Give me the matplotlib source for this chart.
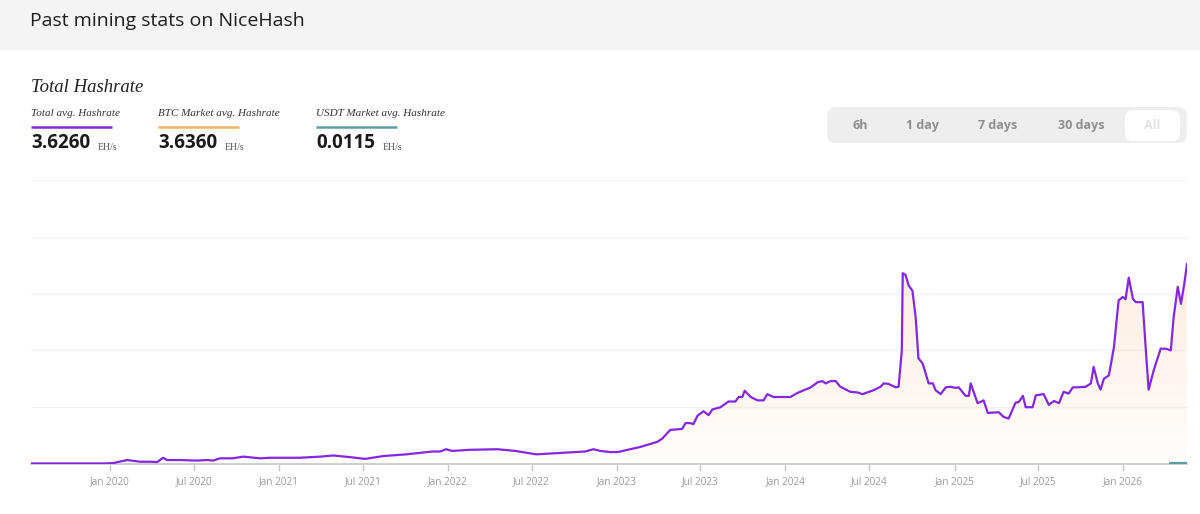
import matplotlib

matplotlib.use("Agg")

import matplotlib.dates as mdates
import matplotlib.pyplot as plt
import numpy as np
import pandas as pd
from matplotlib.patches import FancyBboxPatch, Polygon

# ---------------------------------------------------------------------------
# Data (read off the NiceHash "Total Hashrate" chart, EH/s)
# ---------------------------------------------------------------------------
dates = [
    "2019-07-14", "2019-12-21", "2020-01-07", "2020-02-07", "2020-03-06",
    "2020-03-28", "2020-04-12", "2020-04-25", "2020-05-03", "2020-06-01",
    "2020-07-07", "2020-07-29", "2020-08-11", "2020-08-26", "2020-09-23",
    "2020-10-15", "2020-11-21", "2020-12-12", "2021-02-15", "2021-03-31",
    "2021-04-28", "2021-06-04", "2021-07-06", "2021-08-14", "2021-10-03",
    "2021-11-28", "2021-12-15", "2021-12-28", "2022-01-10", "2022-02-18",
    "2022-04-18", "2022-05-27", "2022-07-11", "2022-08-21", "2022-10-02",
    "2022-10-25", "2022-11-12", "2022-11-27", "2022-12-18", "2023-01-03",
    "2023-02-21", "2023-03-30", "2023-04-10", "2023-04-27", "2023-05-13",
    "2023-05-23", "2023-05-30", "2023-06-10", "2023-06-16", "2023-06-25",
    "2023-07-08", "2023-07-19", "2023-07-27", "2023-08-14", "2023-08-31",
    "2023-09-15", "2023-09-22", "2023-09-30", "2023-10-05", "2023-10-18",
    "2023-11-02", "2023-11-15", "2023-11-23", "2023-12-06", "2023-12-26",
    "2024-01-12", "2024-01-27", "2024-02-25", "2024-03-11", "2024-03-21",
    "2024-03-28", "2024-04-08", "2024-04-19", "2024-04-29", "2024-05-21",
    "2024-06-05", "2024-06-16", "2024-07-10", "2024-07-25", "2024-08-01",
    "2024-08-11", "2024-08-27", "2024-09-02", "2024-09-09", "2024-09-11",
    "2024-09-17", "2024-09-24", "2024-10-02", "2024-10-09", "2024-10-15",
    "2024-10-24", "2024-11-06", "2024-11-15", "2024-11-21", "2024-12-02",
    "2024-12-13", "2024-12-24", "2025-01-03", "2025-01-10", "2025-01-25",
    "2025-02-01", "2025-02-05", "2025-02-20", "2025-03-05", "2025-03-14",
    "2025-04-07", "2025-04-17", "2025-04-28", "2025-05-13", "2025-05-20",
    "2025-05-29", "2025-06-04", "2025-06-19", "2025-06-26", "2025-07-13",
    "2025-07-24", "2025-08-04", "2025-08-15", "2025-08-25", "2025-09-05",
    "2025-09-14", "2025-09-25", "2025-10-12", "2025-10-23", "2025-10-29",
    "2025-11-07", "2025-11-13", "2025-11-20", "2025-12-01", "2025-12-12",
    "2025-12-22", "2025-12-31", "2026-01-06", "2026-01-13", "2026-01-22",
    "2026-01-28", "2026-02-12", "2026-02-19", "2026-02-25", "2026-03-08",
    "2026-03-23", "2026-04-03", "2026-04-14", "2026-04-20", "2026-04-29",
    "2026-05-06", "2026-05-13", "2026-05-19",
]
total_ehs = [
    0.01, 0.01, 0.015, 0.07, 0.04,
    0.04, 0.035, 0.11, 0.07, 0.07,
    0.06, 0.07, 0.06, 0.10, 0.10,
    0.13, 0.10, 0.11, 0.11, 0.13,
    0.15, 0.12, 0.09, 0.14, 0.17,
    0.22, 0.22, 0.26, 0.23, 0.25,
    0.26, 0.23, 0.17, 0.19, 0.21,
    0.22, 0.26, 0.23, 0.21, 0.21,
    0.30, 0.39, 0.45, 0.60, 0.61,
    0.62, 0.72, 0.72, 0.70, 0.85,
    0.93, 0.86, 0.96, 1.00, 1.10,
    1.10, 1.18, 1.18, 1.29, 1.18,
    1.12, 1.12, 1.23, 1.18, 1.18,
    1.18, 1.25, 1.35, 1.44, 1.46,
    1.42, 1.46, 1.46, 1.36, 1.27,
    1.26, 1.23, 1.30, 1.36, 1.42,
    1.41, 1.35, 1.36, 2.00, 3.36,
    3.33, 3.14, 3.05, 2.58, 1.86,
    1.77, 1.42, 1.42, 1.30, 1.23,
    1.35, 1.36, 1.34, 1.35, 1.20,
    1.20, 1.42, 1.07, 1.12, 0.90,
    0.91, 0.83, 0.80, 1.08, 1.09,
    1.20, 1.00, 1.00, 1.21, 1.23,
    1.04, 1.11, 1.07, 1.27, 1.24,
    1.35, 1.35, 1.36, 1.42, 1.71,
    1.42, 1.31, 1.50, 1.56, 2.06,
    2.88, 2.94, 2.90, 3.28, 2.91,
    2.85, 2.85, 2.00, 1.31, 1.65,
    2.03, 2.03, 2.00, 2.58, 3.12,
    2.82, 3.17, 3.52,
]
usdt_dates = ["2026-04-10", "2026-05-19"]
usdt_ehs = [0.0115, 0.0115]

legend_labels = ["Total avg. Hashrate", "BTC Market avg. Hashrate",
                 "USDT Market avg. Hashrate"]
legend_values = ["3.6260", "3.6360", "0.0115"]
range_buttons = ["6h", "1 day", "7 days", "30 days", "All"]
y_grid = [1, 2, 3, 4, 5]

# ---------------------------------------------------------------------------
# Style
# ---------------------------------------------------------------------------
PURPLE = "#8427DE"
ORANGE = "#F2B266"
TEAL = "#5E9EA3"
series_colors = [PURPLE, ORANGE, TEAL]
SANS = ["Open Sans", "DejaVu Sans"]
SERIF = ["Liberation Serif", "DejaVu Serif"]

W, H = 1200, 514
fig = plt.figure(figsize=(W / 100, H / 100), dpi=100)
fig.patch.set_facecolor("white")

# overlay in pixel coordinates for the page furniture
ui = fig.add_axes([0, 0, 1, 1], zorder=0)
ui.set_xlim(0, W)
ui.set_ylim(H, 0)
ui.axis("off")

ui.add_patch(plt.Rectangle((0, 0), W, 50, color="#F4F4F4", lw=0))
ui.text(30, 21, "Past mining stats on NiceHash", family=SANS, fontsize=14,
        color="#1E1E1E", va="center", ha="left")
ui.text(31, 87, "Total Hashrate", family=SERIF, style="italic", fontsize=13.5,
        color="#222222", va="center", ha="left")

legend_x = [31, 158, 316]
for x0, label, value, color in zip(legend_x, legend_labels, legend_values,
                                   series_colors):
    ui.text(x0, 114, label, family=SERIF, style="italic", fontsize=8,
            color="#333333", va="center", ha="left")
    ui.plot([x0, x0 + 81], [126.5, 126.5], color=color, lw=1.8,
            solid_capstyle="butt")
    ui.text(x0, 143, value, family=SANS, weight="bold", fontsize=13.5,
            color="#1A1A1A", va="center", ha="left")
    ui.text(x0 + 67, 147, "EH/s", family=SERIF, fontsize=7,
            color="#555555", va="center", ha="left")

# time range selector
ui.add_patch(FancyBboxPatch((827, 107), 360, 36,
                            boxstyle="round,pad=0,rounding_size=9",
                            fc="#EEEEEE", ec="none"))
ui.add_patch(FancyBboxPatch((1125, 110), 55, 31,
                            boxstyle="round,pad=0,rounding_size=8",
                            fc="white", ec="none"))
button_x = [860, 923, 998, 1081, 1152]
for bx, name in zip(button_x, range_buttons):
    ui.text(bx, 125.5, name, family=SANS, weight="bold", fontsize=9,
            color="#E2E2E2" if name == "All" else "#8E8E8E",
            ha="center", va="center")

# ---------------------------------------------------------------------------
# Chart
# ---------------------------------------------------------------------------
left, right, top, bottom = 31, 1187, 180, 464
ax = fig.add_axes([left / W, 1 - bottom / H, (right - left) / W,
                   (bottom - top) / H], zorder=1)
ax.patch.set_alpha(0)

x = mdates.date2num(pd.to_datetime(dates))
y = np.array(total_ehs)
ax.set_xlim(x[0], x[-1])
ax.set_ylim(0, 5)

# soft gradient fill beneath the line
grad = np.zeros((256, 1, 4))
grad[..., :3] = matplotlib.colors.to_rgb("#F3A258")
grad[..., 3] = np.linspace(0.02, 0.19, 256)[:, None]
img = ax.imshow(grad, extent=[x[0], x[-1], 0, y.max()], origin="lower",
                aspect="auto", zorder=1, interpolation="bicubic")
poly = Polygon(np.column_stack([np.r_[x[0], x, x[-1]], np.r_[0, y, 0]]),
               closed=True, transform=ax.transData)
img.set_clip_path(poly)

for g in y_grid:
    ax.axhline(g, color="#F3F3F3", lw=0.9, zorder=0)

ax.plot(x, y, color=PURPLE, lw=1.6, zorder=3, solid_joinstyle="round")
ux = mdates.date2num(pd.to_datetime(usdt_dates))
ax.plot(ux, usdt_ehs, color=TEAL, lw=1.6, zorder=4, solid_capstyle="butt")

for side in ("left", "right", "top"):
    ax.spines[side].set_visible(False)
ax.spines["bottom"].set_color("#C8C8C8")
ax.spines["bottom"].set_linewidth(1.2)
ax.spines["bottom"].set_zorder(2)

tick_dates = pd.date_range("2020-01-01", "2026-01-01", freq="6MS")
ax.set_xticks(mdates.date2num(tick_dates))
ax.xaxis.set_major_formatter(mdates.DateFormatter("%b %Y"))
ax.tick_params(axis="x", length=5, width=1, color="#C8C8C8", pad=4,
               labelsize=7.2, labelcolor="#9A9A9A")
for lab in ax.get_xticklabels():
    lab.set_family(SANS)
ax.set_yticks([])

fig.savefig("out.png", dpi=100)
